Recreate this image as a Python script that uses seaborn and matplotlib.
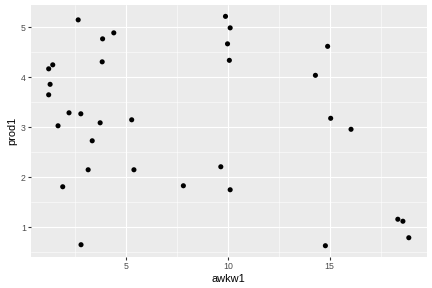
import matplotlib
matplotlib.use("Agg")
import matplotlib.pyplot as plt
import seaborn as sns
import pandas as pd
import numpy as np
from matplotlib.ticker import MultipleLocator

awkw1 = [2.64, 4.39, 3.84, 3.82, 1.39, 1.19, 1.26, 1.19, 2.19, 2.77, 1.65, 3.72, 5.27, 3.33,
         3.13, 5.38, 1.88, 7.81, 2.78,
         9.88, 10.11, 9.98, 10.07, 14.90, 14.30, 15.05, 16.05,
         9.65, 10.11, 18.35, 18.60, 18.89, 14.79]
prod1 = [5.15, 4.89, 4.77, 4.31, 4.25, 4.17, 3.86, 3.65, 3.29, 3.27, 3.03, 3.09, 3.15, 2.73,
         2.15, 2.15, 1.81, 1.83, 0.65,
         5.22, 4.99, 4.67, 4.34, 4.62, 4.04, 3.18, 2.96,
         2.21, 1.75, 1.16, 1.12, 0.79, 0.63]
x_ticks = [5, 10, 15]
y_ticks = [1, 2, 3, 4, 5]

df = pd.DataFrame({"awkw1": awkw1, "prod1": prod1})

sns.set_theme(style="darkgrid")
plt.rcParams['font.family'] = ['Liberation Sans', 'DejaVu Sans']
fig = plt.figure(figsize=(6, 4), dpi=72)
ax = fig.add_axes([0.071, 0.107, 0.917, 0.876])
ax.set_facecolor("#EBEBEB")
sns.scatterplot(data=df, x="awkw1", y="prod1", ax=ax, color="black", s=26,
                edgecolor="none", linewidth=0, zorder=3)

xmin, xmax = min(awkw1), max(awkw1)
ymin, ymax = min(prod1), max(prod1)
ex = (xmax - xmin) * 0.05
ey = (ymax - ymin) * 0.05
ax.set_xlim(xmin - ex, xmax + ex)
ax.set_ylim(ymin - ey, ymax + ey)
ax.set_xticks(x_ticks)
ax.set_yticks(y_ticks)
ax.xaxis.set_minor_locator(MultipleLocator(2.5))
ax.yaxis.set_minor_locator(MultipleLocator(0.5))
ax.grid(which="major", color="white", linewidth=1.1)
ax.grid(which="minor", color="white", linewidth=0.55)
ax.set_axisbelow(True)
for sp in ax.spines.values():
    sp.set_visible(False)
ax.tick_params(axis="both", which="major", length=2.75, width=1.1, color="#333333",
               labelcolor="#4D4D4D", labelsize=8.8, pad=2, bottom=True, left=True)
ax.tick_params(axis="both", which="minor", length=0)
ax.set_xlabel("awkw1", fontsize=11, color="black", labelpad=3)
ax.set_ylabel("prod1", fontsize=11, color="black", labelpad=4)
fig.savefig("out.png", dpi=72)
